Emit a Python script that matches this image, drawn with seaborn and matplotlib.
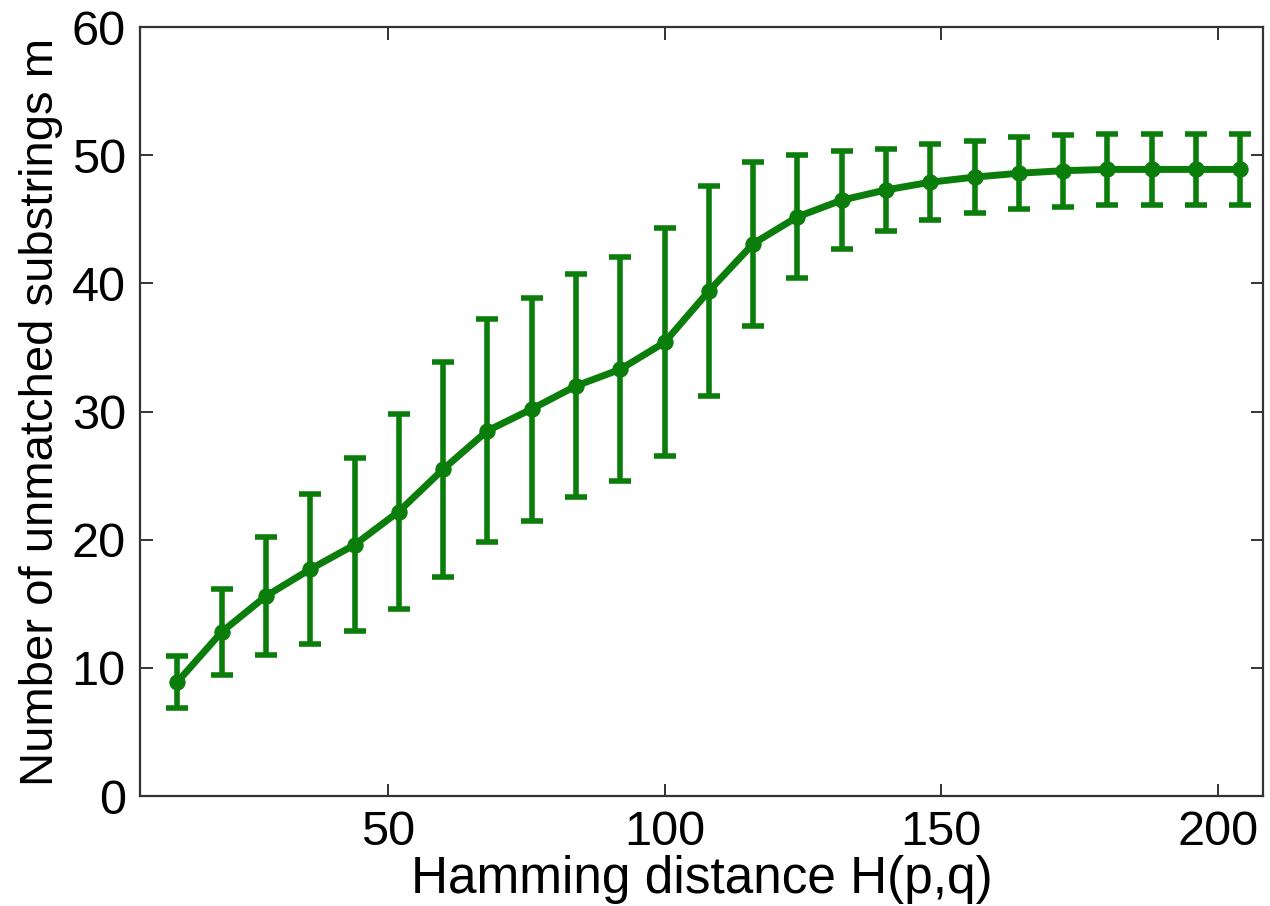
import numpy as np
import pandas as pd
import seaborn as sns
import matplotlib
matplotlib.use("Agg")
import matplotlib.pyplot as plt

# data
hamming = [12, 20, 28, 36, 44, 52, 60, 68, 76, 84, 92, 100, 108,
           116, 124, 132, 140, 148, 156, 164, 172, 180, 188, 196, 204]
mean_m = [8.9, 12.8, 15.6, 17.7, 19.6, 22.2, 25.5, 28.5, 30.2, 32.0, 33.3, 35.4, 39.4,
          43.1, 45.2, 46.5, 47.3, 47.9, 48.3, 48.6, 48.8, 48.9, 48.9, 48.9, 48.9]
err_m = [2.05, 3.35, 4.6, 5.85, 6.75, 7.6, 8.4, 8.7, 8.7, 8.7, 8.75, 8.9, 8.2,
         6.4, 4.8, 3.8, 3.2, 2.95, 2.8, 2.8, 2.8, 2.8, 2.8, 2.8, 2.8]
x_ticks = [50, 100, 150, 200]
y_ticks = [0, 10, 20, 30, 40, 50, 60]

df = pd.DataFrame({"H": hamming, "m": mean_m, "err": err_m})

sns.set_style("ticks")
plt.rcParams['font.family'] = ['Liberation Sans', 'DejaVu Sans']

green = "#0a7d0a"

fig = plt.figure(figsize=(12.7, 9.06), dpi=100)
ax = fig.add_axes([0.110, 0.1214, 0.8845, 0.8486])

# error bars first, then the line with markers on top
ax.errorbar(df["H"], df["m"], yerr=df["err"], fmt="none", ecolor=green,
            elinewidth=4.0, capsize=8, capthick=4.0, zorder=2)
sns.lineplot(data=df, x="H", y="m", ax=ax, color=green, linewidth=5,
             marker="o", markersize=11, markeredgecolor=green, zorder=3)

ax.set_xlim(5.2, 208.1)
ax.set_ylim(0, 60)
ax.set_xticks(x_ticks)
ax.set_yticks(y_ticks)
ax.tick_params(direction="in", length=9, width=1.4, top=True, right=True,
               labelsize=35, color="#333333", labelcolor="black", pad=10)
for s in ax.spines.values():
    s.set_visible(True)
    s.set_linewidth(1.6)
    s.set_color("#333333")

ax.set_xlabel("Hamming distance H(p,q)", fontsize=37, labelpad=0, color="black")
ax.set_ylabel("Number of unmatched substrings m", fontsize=34, labelpad=6, color="black")

fig.savefig("out.png", dpi=100)
